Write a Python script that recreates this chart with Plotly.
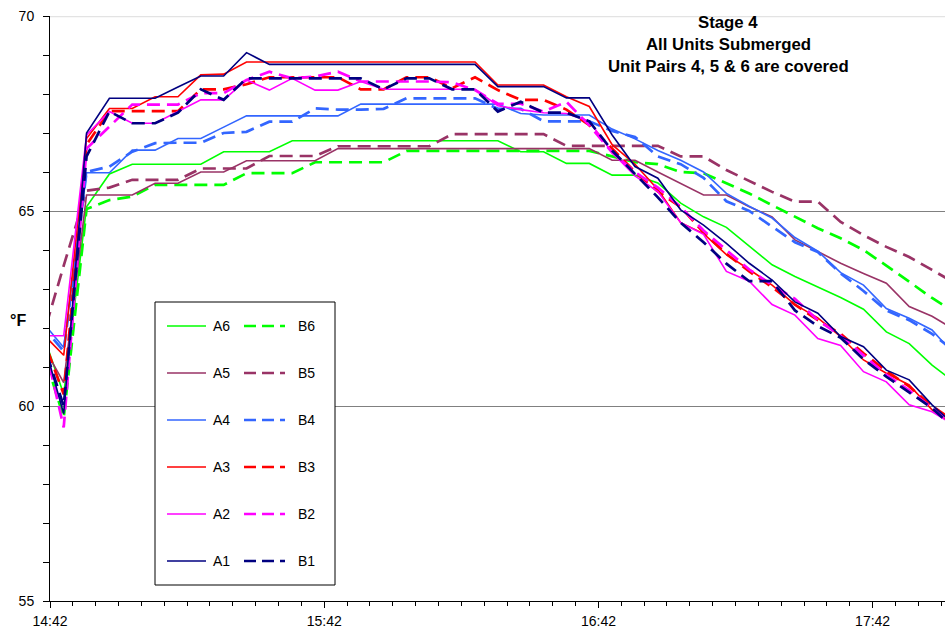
import plotly.graph_objects as go

times = ["14:40", "14:45", "14:50", "14:55", "15:00", "15:05", "15:10", "15:15", "15:20", "15:25",
         "15:30", "15:35", "15:40", "15:45", "15:50", "15:55", "16:00", "16:05", "16:10", "16:15",
         "16:20", "16:25", "16:30", "16:35", "16:40", "16:45", "16:50", "16:55", "17:00", "17:05",
         "17:10", "17:15", "17:20", "17:25", "17:30", "17:35", "17:40", "17:45", "17:50", "17:55",
         "18:00"]

A1 = [61.9, 59.8, 67.0, 67.89, 67.89, 67.89, 68.18, 68.46, 68.46, 69.06,
      68.76, 68.76, 68.76, 68.76, 68.76, 68.76, 68.76, 68.76, 68.76, 68.76,
      68.19, 68.19, 68.19, 67.9, 67.9, 66.95, 66.14, 65.84, 65.03, 64.64,
      64.17, 63.66, 63.23, 62.67, 62.38, 61.78, 61.52, 60.92, 60.67, 60.03,
      59.5]
B1 = [61.8, 60.0, 66.4, 67.55, 67.25, 67.25, 67.52, 68.12, 67.85, 68.4,
      68.4, 68.4, 68.4, 68.4, 68.4, 68.12, 68.4, 68.4, 68.12, 68.12,
      67.55, 67.8, 67.52, 67.52, 67.3, 66.55, 65.95, 65.35, 64.7, 64.2,
      63.65, 63.2, 63.2, 62.45, 62.05, 61.75, 61.2, 60.75, 60.35, 59.95,
      59.4]
A2 = [61.8, 61.8, 66.95, 67.55, 67.25, 67.25, 67.55, 67.85, 67.85, 68.36,
      68.1, 68.4, 68.1, 68.1, 68.32, 68.12, 68.12, 68.12, 68.12, 68.12,
      67.7, 67.6, 67.52, 67.5, 67.3, 66.5, 65.9, 65.5, 64.7, 64.4,
      63.45, 63.2, 62.6, 62.33, 61.73, 61.55, 60.88, 60.62, 60.03, 59.85,
      59.5]
B2 = [62.0, 59.45, 66.6, 67.16, 67.73, 67.73, 67.73, 68.02, 68.02, 68.36,
      68.57, 68.4, 68.45, 68.57, 68.32, 68.32, 68.32, 68.32, 68.3, 68.1,
      67.75, 67.75, 67.55, 67.8, 67.2, 66.5, 66.0, 65.6, 65.1, 64.5,
      64.0, 63.5, 63.1, 62.75, 62.2, 61.8, 61.3, 60.8, 60.4, 59.95,
      59.5]
A3 = [61.9, 61.3, 66.86, 67.63, 67.63, 67.93, 67.93, 68.49, 68.51, 68.82,
      68.82, 68.82, 68.82, 68.82, 68.82, 68.82, 68.82, 68.82, 68.82, 68.82,
      68.23, 68.23, 68.23, 67.93, 67.68, 66.7, 66.2, 65.55, 64.7, 64.42,
      63.88, 63.5, 63.1, 62.6, 62.26, 61.78, 61.18, 60.84, 60.54, 59.9,
      59.5]
B3 = [61.9, 60.3, 66.7, 67.56, 67.56, 67.56, 67.56, 68.12, 68.12, 68.25,
      68.43, 68.43, 68.43, 68.43, 68.12, 68.12, 68.43, 68.43, 68.15, 68.43,
      68.1, 67.85, 67.85, 67.6, 67.2, 66.6, 66.0, 65.5, 65.1, 64.45,
      63.9, 63.45, 63.05, 62.6, 62.2, 61.85, 61.35, 60.9, 60.5, 60.0,
      59.6]
A4 = [62.2, 61.5, 65.98, 65.98, 66.56, 66.56, 66.86, 66.86, 67.15, 67.44,
      67.44, 67.44, 67.44, 67.44, 67.74, 67.74, 67.74, 67.74, 67.74, 67.74,
      67.74, 67.5, 67.46, 67.46, 67.46, 67.1, 66.85, 66.55, 66.3, 66.0,
      65.45, 65.12, 64.82, 64.32, 63.97, 63.42, 63.1, 62.5, 62.25, 61.95,
      61.3]
B4 = [62.1, 61.4, 66.0, 66.14, 66.52, 66.74, 66.75, 66.75, 67.0, 67.03,
      67.29, 67.29, 67.63, 67.6, 67.6, 67.62, 67.89, 67.89, 67.89, 67.89,
      67.62, 67.62, 67.3, 67.3, 67.3, 67.05, 66.9, 66.4, 66.2, 65.85,
      65.25, 65.0, 64.6, 64.2, 63.95, 63.4, 62.95, 62.45, 62.2, 61.85,
      61.4]
A5 = [61.65, 60.6, 65.41, 65.41, 65.41, 65.71, 65.71, 66.0, 66.0, 66.29,
      66.29, 66.29, 66.29, 66.6, 66.6, 66.6, 66.6, 66.6, 66.6, 66.6,
      66.6, 66.6, 66.6, 66.6, 66.6, 66.3, 66.3, 66.0, 65.7, 65.41,
      65.41, 65.11, 64.85, 64.26, 63.96, 63.66, 63.4, 63.15, 62.55, 62.3,
      61.95]
B5 = [61.6, 63.6, 65.52, 65.6, 65.8, 65.8, 65.8, 66.09, 66.09, 66.09,
      66.41, 66.41, 66.41, 66.66, 66.66, 66.66, 66.66, 66.66, 66.97, 66.97,
      66.97, 66.97, 66.97, 66.67, 66.67, 66.67, 66.67, 66.67, 66.4, 66.4,
      66.05, 65.77, 65.49, 65.24, 65.24, 64.72, 64.38, 64.08, 63.82, 63.49,
      63.15]
A6 = [62.0, 60.3, 65.11, 65.95, 66.2, 66.2, 66.2, 66.2, 66.52, 66.52,
      66.52, 66.8, 66.8, 66.8, 66.8, 66.8, 66.8, 66.8, 66.8, 66.8,
      66.8, 66.52, 66.52, 66.22, 66.22, 65.92, 65.92, 65.72, 65.2, 64.85,
      64.58, 64.1, 63.62, 63.32, 63.06, 62.78, 62.48, 61.9, 61.6, 61.05,
      60.6]
B6 = [61.6, 59.7, 65.05, 65.28, 65.37, 65.67, 65.67, 65.67, 65.67, 65.97,
      65.97, 65.97, 66.25, 66.25, 66.25, 66.25, 66.54, 66.54, 66.54, 66.54,
      66.54, 66.54, 66.54, 66.54, 66.54, 66.4, 66.25, 66.2, 66.0, 65.97,
      65.72, 65.45, 65.15, 64.85, 64.56, 64.3, 64.0, 63.6, 63.18, 62.77,
      62.4]

title_lines = ["Stage 4", "All Units Submerged", "Unit Pairs 4, 5 & 6 are covered"]
x_tick_labels = ["14:42", "15:42", "16:42", "17:42"]
y_unit = "°F"

DAY = "2000-01-01 "
x = [DAY + t for t in times]

colors = {"6": "#00FF00", "5": "#993366", "4": "#3366FF", "3": "#FF0000", "2": "#FF00FF", "1": "#000080"}
series = [("A6", A6), ("B6", B6), ("A5", A5), ("B5", B5), ("A4", A4), ("B4", B4),
          ("A3", A3), ("B3", B3), ("A2", A2), ("B2", B2), ("A1", A1), ("B1", B1)]

FONT = "Liberation Sans, Arial, sans-serif"
W, H = 945, 628
L, R, T, B = 50, 0, 16, 27
PW, PH = W - L - R, H - T - B


def px2paper(px, py):
    return (px - L) / PW, (H - B - py) / PH


DASH = "13px,7px"
fig = go.Figure()
for name, vals in series:
    c = colors[name[1]]
    dashed = name[0] == "B"
    fig.add_trace(go.Scatter(
        x=x, y=vals, mode="lines", name=name, showlegend=False,
        line=dict(color=c, width=2.7 if dashed else 1.6, dash=DASH if dashed else "solid"),
    ))

shapes = []
annotations = []

# light line at top of plot area (70)
shapes.append(dict(type="line", xref="paper", yref="y", x0=0, x1=1, y0=70, y1=70,
                   line=dict(color="#E3E3E3", width=2.5), layer="above"))

# manual legend box
bx0, by0 = px2paper(155, 585)
bx1, by1 = px2paper(335, 302)
shapes.append(dict(type="rect", xref="paper", yref="paper", x0=bx0, y0=by0, x1=bx1, y1=by1,
                   line=dict(color="black", width=1), fillcolor="white", layer="above"))
legend_rows = ["6", "5", "4", "3", "2", "1"]
for i, s in enumerate(legend_rows):
    py = 326 + 47 * i
    c = colors[s]
    xa0, yy = px2paper(167, py)
    xa1, _ = px2paper(206, py)
    shapes.append(dict(type="line", xref="paper", yref="paper", x0=xa0, x1=xa1, y0=yy, y1=yy,
                       line=dict(color=c, width=1.6), layer="above"))
    xb0, _ = px2paper(244, py)
    xb1, _ = px2paper(285, py)
    shapes.append(dict(type="line", xref="paper", yref="paper", x0=xb0, x1=xb1, y0=yy, y1=yy,
                       line=dict(color=c, width=2.7, dash="12px,6px"), layer="above"))
    tx, _ = px2paper(211, py)
    annotations.append(dict(text="A" + s, xref="paper", yref="paper", x=tx, y=yy,
                            xanchor="left", yanchor="middle", showarrow=False,
                            font=dict(family=FONT, size=14, color="black")))
    tx2, _ = px2paper(296, py)
    annotations.append(dict(text="B" + s, xref="paper", yref="paper", x=tx2, y=yy,
                            xanchor="left", yanchor="middle", showarrow=False,
                            font=dict(family=FONT, size=14, color="black")))

# title text block
for line, py in zip(title_lines, [23, 44.5, 66]):
    tx, ty = px2paper(728, py)
    annotations.append(dict(text="<b>" + line + "</b>", xref="paper", yref="paper", x=tx, y=ty,
                            xanchor="center", yanchor="middle", showarrow=False,
                            font=dict(family=FONT, size=16.8, color="black")))

# unit label
ux, uy = px2paper(18, 321)
annotations.append(dict(text="<b>" + y_unit + "</b>", xref="paper", yref="paper", x=ux, y=uy,
                        xanchor="center", yanchor="middle", showarrow=False,
                        font=dict(family=FONT, size=16, color="black")))

tickvals = [DAY + t for t in x_tick_labels]

fig.update_layout(
    width=W, height=H,
    margin=dict(l=L, r=R, t=T, b=B, pad=0, autoexpand=False),
    paper_bgcolor="white", plot_bgcolor="white",
    font=dict(family=FONT, size=14, color="black"),
    shapes=shapes, annotations=annotations,
    showlegend=False,
    xaxis=dict(
        type="date", automargin=False,
        range=[DAY + "14:42", DAY + "17:57:50"],
        tickvals=tickvals, ticktext=x_tick_labels,
        ticks="outside", ticklen=6, tickwidth=1, tickcolor="black",
        showline=True, linecolor="black", linewidth=1,
        showgrid=False, zeroline=False,
        tickfont=dict(family=FONT, size=14, color="black"),
        ticklabelstandoff=1,
        minor=dict(dtick=300000, tick0=DAY + "14:42", ticks="outside", ticklen=4,
                   tickcolor="black", tickwidth=1, showgrid=False),
    ),
    yaxis=dict(
        range=[55, 70], dtick=5, tick0=55, automargin=False,
        ticks="outside", ticklen=6, tickwidth=1, tickcolor="black",
        showline=True, linecolor="black", linewidth=1,
        showgrid=True, gridcolor="#808080", gridwidth=1.3,
        zeroline=False,
        tickfont=dict(family=FONT, size=14, color="black"),
        ticklabelstandoff=6,
        minor=dict(dtick=1, ticks="outside", ticklen=6, tickcolor="black", tickwidth=1,
                   showgrid=False),
    ),
)

fig.write_html(
    "out.html",
    config={"displayModeBar": False},
    post_script="document.body.style.margin='0px';document.body.style.overflow='hidden';",
)
